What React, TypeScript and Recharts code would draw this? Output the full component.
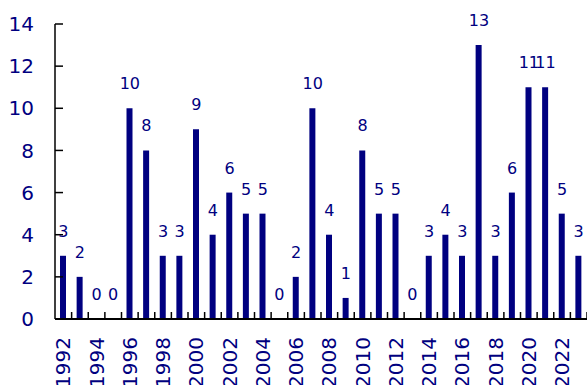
import React from "react";
import { ComposedChart, Bar, Line, XAxis, YAxis, LabelList } from "recharts";

const years = [
  "1992", "1993", "1994", "1995", "1996", "1997", "1998", "1999",
  "2000", "2001", "2002", "2003", "2004", "2005", "2006", "2007",
  "2008", "2009", "2010", "2011", "2012", "2013", "2014", "2015",
  "2016", "2017", "2018", "2019", "2020", "2021", "2022", "2023",
];
const counts = [
  3, 2, 0, 0, 10, 8, 3, 3,
  9, 4, 6, 5, 5, 0, 2, 10,
  4, 1, 8, 5, 5, 0, 3, 4,
  3, 13, 3, 6, 11, 11, 5, 3,
];
const yTicks = [0, 2, 4, 6, 8, 10, 12, 14];

const data = years.map((year, i) => ({ year, value: counts[i] }));

const NAVY = "#000080";
const FONT = "DejaVu Sans";
const HALF_BAND = 16.625 / 2;

// y ticks: tick mark drawn inside the plot, label to the left
const YTick = ({ x, y, payload }: any) => (
  <g>
    <line x1={x + 21} x2={x + 29} y1={y} y2={y} stroke="#000" strokeWidth={1.5} />
    <text x={x} y={y} dy="0.36em" textAnchor="end" fill={NAVY} fontSize={20} fontFamily={FONT}>
      {payload.value}
    </text>
  </g>
);

// x ticks: marks at band boundaries pointing up, labels for even years only
const XTick = ({ x, y, payload }: any) => {
  const show = Number(payload.value) % 2 === 0;
  return (
    <g>
      <line x1={x + HALF_BAND} x2={x + HALF_BAND} y1={y} y2={y - 7} stroke="#000" strokeWidth={1.5} />
      {show && (
        <text
          transform={`translate(${x + 7},${y + 18}) rotate(-90)`}
          textAnchor="end"
          fill={NAVY}
          fontSize={20}
          fontFamily={FONT}
        >
          {payload.value}
        </text>
      )}
    </g>
  );
};

export default function App() {
  return (
    <div style={{ position: "absolute", left: 0, top: 0, background: "#fff" }}>
      <ComposedChart
        width={587}
        height={385}
        data={data}
        margin={{ top: 24, right: 0, bottom: 0, left: 0 }}
      >
        <XAxis
          dataKey="year"
          interval={0}
          height={66}
          tickSize={0}
          tickMargin={0}
          tick={<XTick />}
          axisLine={{ stroke: "#000", strokeWidth: 2 }}
          tickLine={false}
        />
        <YAxis
          domain={[0, 14]}
          ticks={yTicks}
          width={55}
          tickSize={0}
          tickMargin={21}
          tick={<YTick />}
          axisLine={{ stroke: "#000", strokeWidth: 1.5 }}
          tickLine={false}
        />
        <Bar dataKey="value" fill={NAVY} barSize={6} isAnimationActive={false} />
        {/* invisible line carries the value labels so zero values get one too */}
        <Line
          dataKey="value"
          stroke="none"
          dot={false}
          activeDot={false}
          isAnimationActive={false}
        >
          <LabelList
            dataKey="value"
            position="top"
            offset={19}
            fill={NAVY}
            fontSize={16}
            fontFamily={FONT}
          />
        </Line>
      </ComposedChart>
    </div>
  );
}
